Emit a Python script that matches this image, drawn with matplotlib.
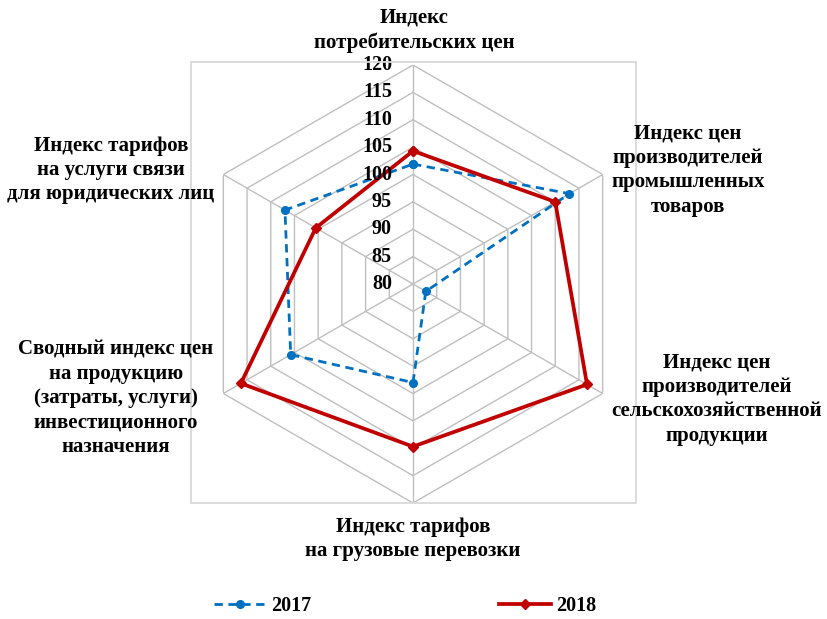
import numpy as np
import matplotlib
matplotlib.use("Agg")
import matplotlib.pyplot as plt
from matplotlib.patches import Rectangle

categories = [
    "Индекс\nпотребительских цен",
    "Индекс цен\nпроизводителей\nпромышленных\nтоваров",
    "Индекс цен\nпроизводителей\nсельскохозяйственной\nпродукции",
    "Индекс тарифов\nна грузовые перевозки",
    "Сводный индекс цен\nна продукцию\n(затраты, услуги)\nинвестиционного\nназначения",
    "Индекс тарифов\nна услуги связи\nдля юридических лиц",
]
values_2017 = [101.9, 113.0, 82.7, 98.0, 105.8, 107.0]
values_2018 = [104.3, 110.0, 116.7, 109.7, 116.3, 100.5]
ticks = [80, 85, 90, 95, 100, 105, 110, 115, 120]
tick_labels = [str(t) for t in ticks]
series_names = ["2017", "2018"]

W, H = 827, 619
fig = plt.figure(figsize=(W / 100, H / 100), dpi=100)
FONT = "Liberation Serif"
FS = 15

# plot-area frame
fig.patches.append(Rectangle((191 / W, (H - 503) / H), (636 - 191) / W, (503 - 62) / H,
                             transform=fig.transFigure, fill=False,
                             edgecolor="#d9d9d9", linewidth=1.3, zorder=0))

cx, cy, R = 413, 284, 219
ax = fig.add_axes([(cx - R) / W, (H - cy - R) / H, 2 * R / W, 2 * R / H], projection="polar")
ax.set_theta_zero_location("N")
ax.set_theta_direction(-1)
ax.set_ylim(ticks[0], ticks[-1])
ax.grid(False)
ax.spines["polar"].set_visible(False)
ax.set_xticks([])
ax.set_yticks([])
ax.patch.set_alpha(0)

n = len(categories)
theta = np.arange(n) * 2 * np.pi / n
theta_c = np.append(theta, theta[0])

gc = "#bfbfbf"
for t in ticks[1:]:
    ax.plot(theta_c, [t] * (n + 1), color=gc, lw=1.0, zorder=1)
for th in theta:
    ax.plot([th, th], [ticks[0], ticks[-1]], color=gc, lw=1.0, zorder=1)

for t, lab in zip(ticks, tick_labels):
    ax.annotate(lab, xy=(0, t), xytext=(-21, 0), textcoords="offset pixels",
                ha="right", va="center", fontsize=14.5, fontweight="bold",
                family=FONT, color="black", zorder=5)

v17 = values_2017 + [values_2017[0]]
v18 = values_2018 + [values_2018[0]]
ax.plot(theta_c, v17, color="#0070C0", lw=2.0, ls=(0, (3, 2)), marker="o", ms=5.5,
        label=series_names[0], zorder=3)
ax.plot(theta_c, v18, color="#C00000", lw=2.7, marker="D", ms=5,
        label=series_names[1], zorder=4)

# category labels
label_pos = [(414, 30), (688, 170), (717, 399), (413, 539), (116, 398), (111, 170)]
for txt, (x, y) in zip(categories, label_pos):
    fig.text(x / W, 1 - y / H, txt, ha="center", va="center", multialignment="center",
             fontsize=FS, fontweight="bold", family=FONT, linespacing=1.3)

leg = fig.legend(loc="center", bbox_to_anchor=(405 / W, 1 - 606 / H), ncol=2, frameon=False,
                 prop={"family": FONT, "weight": "bold", "size": 14.5},
                 handlelength=2.6, handletextpad=0.25, columnspacing=9.3,
                 borderpad=0.1)

fig.savefig("out.png", dpi=100)
